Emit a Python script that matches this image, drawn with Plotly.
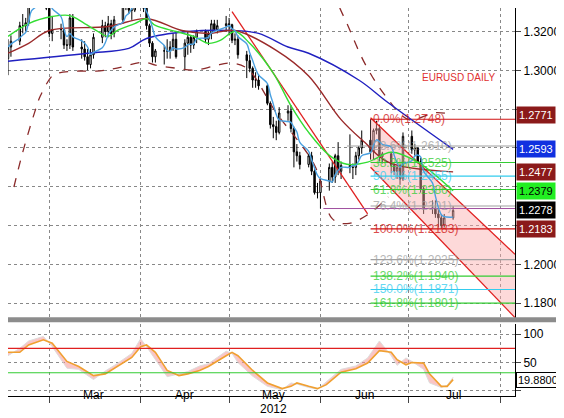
import pandas as pd
from plotly import graph_objects as go

# Daily EURUSD candles, 16 Feb - 16 Jul 2012 (business days)
first_open = 1.3060
close = [1.3120, 1.3150, 1.3230, 1.3230, 1.3245, 1.3380, 1.3450, 1.3420, 1.3450, 1.3320,
         1.3190, 1.3210, 1.3210, 1.3130, 1.3130, 1.3270, 1.3120, 1.3110, 1.3070, 1.3030,
         1.3080, 1.3170, 1.3230, 1.3200, 1.3240, 1.3190, 1.3260, 1.3350, 1.3360, 1.3310,
         1.3310, 1.3340,
         1.3320, 1.3230, 1.3140, 1.3070, 1.3100, 1.3100, 1.3100, 1.3120, 1.3160, 1.3070,
         1.3140, 1.3170, 1.3130, 1.3170, 1.3200, 1.3160, 1.3190, 1.3240, 1.3210, 1.3230, 1.3240,
         1.3235, 1.3155, 1.3160, 1.3080, 1.3050, 1.3010, 1.2950, 1.2950, 1.2920, 1.2830,
         1.2720, 1.2710, 1.2680, 1.2780, 1.2790, 1.2700, 1.2580, 1.2560, 1.2515, 1.2560,
         1.2480, 1.2370, 1.2370,
         1.2430, 1.2500, 1.2450, 1.2560, 1.2480, 1.2510, 1.2500, 1.2500, 1.2560, 1.2600,
         1.2640, 1.2580, 1.2690, 1.2700, 1.2555, 1.2570, 1.2510, 1.2480, 1.2500, 1.2440, 1.2660,
         1.2590, 1.2600, 1.2530, 1.2390, 1.2290, 1.2290, 1.2260, 1.2240, 1.2200, 1.2240, 1.2278]
high = [1.3160, 1.3180, 1.3250, 1.3290, 1.3270, 1.3390, 1.3480, 1.3460, 1.3485, 1.3440,
        1.3330, 1.3280, 1.3240, 1.3210, 1.3160, 1.3290, 1.3290, 1.3160, 1.3150, 1.3110,
        1.3110, 1.3190, 1.3260, 1.3250, 1.3280, 1.3260, 1.3280, 1.3380, 1.3385, 1.3370,
        1.3340, 1.3385,
        1.3380, 1.3340, 1.3240, 1.3150, 1.3110, 1.3130, 1.3160, 1.3150, 1.3190, 1.3200,
        1.3160, 1.3200, 1.3180, 1.3180, 1.3210, 1.3210, 1.3200, 1.3260, 1.3260, 1.3260, 1.3280,
        1.3270, 1.3240, 1.3190, 1.3180, 1.3100, 1.3080, 1.3020, 1.2990, 1.2980, 1.2930,
        1.2840, 1.2760, 1.2740, 1.2810, 1.2820, 1.2820, 1.2710, 1.2620, 1.2580, 1.2570,
        1.2580, 1.2490, 1.2420,
        1.2440, 1.2520, 1.2530, 1.2570, 1.2630, 1.2530, 1.2670, 1.2520, 1.2580, 1.2610,
        1.2690, 1.2748, 1.2700, 1.2740, 1.2720, 1.2580, 1.2580, 1.2520, 1.2510, 1.2520, 1.2680,
        1.2690, 1.2620, 1.2600, 1.2550, 1.2400, 1.2330, 1.2330, 1.2290, 1.2260, 1.2260, 1.2300]
low = [1.2975, 1.3070, 1.3130, 1.3190, 1.3200, 1.3230, 1.3350, 1.3370, 1.3400, 1.3310,
       1.3170, 1.3150, 1.3160, 1.3110, 1.3100, 1.3110, 1.3100, 1.3060, 1.3050, 1.3000,
       1.3010, 1.3060, 1.3140, 1.3170, 1.3170, 1.3160, 1.3170, 1.3240, 1.3310, 1.3290,
       1.3260, 1.3300,
       1.3300, 1.3210, 1.3120, 1.3040, 1.3040, 1.3030, 1.3060, 1.3060, 1.3100, 1.3060,
       1.3000, 1.3080, 1.3090, 1.3110, 1.3140, 1.3140, 1.3130, 1.3160, 1.3200, 1.3190, 1.3200,
       1.3180, 1.3140, 1.3130, 1.3060, 1.2960, 1.2990, 1.2910, 1.2910, 1.2900, 1.2820,
       1.2700, 1.2650, 1.2640, 1.2670, 1.2740, 1.2680, 1.2500, 1.2530, 1.2490, 1.2500,
       1.2460, 1.2360, 1.2340,
       1.2288, 1.2380, 1.2420, 1.2420, 1.2460, 1.2440, 1.2470, 1.2440, 1.2460, 1.2540,
       1.2570, 1.2540, 1.2540, 1.2670, 1.2530, 1.2520, 1.2470, 1.2460, 1.2440, 1.2410, 1.2430,
       1.2570, 1.2560, 1.2520, 1.2370, 1.2260, 1.2260, 1.2240, 1.2190, 1.2183, 1.2190, 1.2230]

# Moving averages / envelope
blue_dates = ["2012-02-16", "2012-03-14", "2012-03-28", "2012-04-03", "2012-04-17", "2012-05-02",
              "2012-05-11", "2012-05-21", "2012-05-28", "2012-06-14", "2012-06-24", "2012-07-16"]
blue_vals = [1.3047, 1.3088, 1.3113, 1.3164, 1.3200, 1.3205, 1.3190, 1.3120, 1.3088, 1.2950, 1.2833, 1.2593]
brown_dates = ["2012-02-16", "2012-02-23", "2012-03-01", "2012-03-21", "2012-04-03", "2012-04-15",
               "2012-04-24", "2012-05-03", "2012-05-17", "2012-05-28", "2012-06-08", "2012-06-16",
               "2012-06-24", "2012-07-16"]
brown_vals = [1.3088, 1.3139, 1.3205, 1.3226, 1.3266, 1.3205, 1.3190, 1.3205, 1.3103, 1.2971,
              1.2746, 1.2629, 1.2527, 1.2477]
green_dates = ["2012-02-16", "2012-02-23", "2012-03-02", "2012-03-08", "2012-03-13", "2012-03-17",
               "2012-03-21", "2012-03-24", "2012-03-30", "2012-04-03", "2012-04-06", "2012-04-13",
               "2012-04-19", "2012-04-24", "2012-04-28", "2012-05-03", "2012-05-08", "2012-05-16",
               "2012-05-22", "2012-05-28", "2012-06-04", "2012-06-10", "2012-06-17", "2012-06-25",
               "2012-07-04", "2012-07-16"]
green_vals = [1.3175, 1.3241, 1.3277, 1.3282, 1.3241, 1.3205, 1.3175, 1.3205, 1.3241, 1.3266,
              1.3231, 1.3200, 1.3175, 1.3139, 1.3154, 1.3200, 1.3139, 1.2986, 1.2817, 1.2680,
              1.2562, 1.2516, 1.2527, 1.2578, 1.2527, 1.2379]
env_low_dates = ["2012-02-18", "2012-02-21", "2012-02-25", "2012-02-27", "2012-03-02", "2012-03-04",
                 "2012-03-10", "2012-03-17", "2012-03-24", "2012-04-02", "2012-04-06", "2012-04-13",
                 "2012-04-19", "2012-04-26", "2012-05-01", "2012-05-07", "2012-05-17", "2012-05-30",
                 "2012-06-05", "2012-06-10", "2012-06-17", "2012-06-24"]
env_low_vals = [1.2399, 1.2578, 1.2782, 1.2869, 1.2971, 1.2986, 1.2996, 1.2996, 1.3011, 1.3042,
                1.3027, 1.3011, 1.3001, 1.3022, 1.3037, 1.3011, 1.2782, 1.2511, 1.2236, 1.2210,
                1.2256, 1.2348]
env_up_dates = ["2012-06-04", "2012-06-07", "2012-06-10", "2012-06-16", "2012-06-23", "2012-07-01",
                "2012-07-10", "2012-07-16"]
env_up_vals = [1.3500, 1.3343, 1.3241, 1.3037, 1.2869, 1.2746, 1.2782, 1.2771]

# Trend channel (drawn lines)
trend_dates = ["2012-05-02", "2012-06-17"]
trend_vals = [1.3302, 1.2261]
chan_dates = ["2012-06-18", "2012-08-06"]
chan_top = [1.2756, 1.2052]
chan_bot = [1.2501, 1.1726]

# Fibonacci levels
fib_pct = ["0.0%", "23.6%", "38.2%", "50.0%", "61.8%", "76.4%", "100.0%",
           "123.6%", "138.2%", "150.0%", "161.8%"]
fib_vals = [1.2748, 1.2610, 1.2525, 1.2455, 1.2386, 1.2301, 1.2183,
            1.2025, 1.1940, 1.1871, 1.1801]
fib_cols = ["#d01010", "#a0a0a0", "#33cc33", "#33ccee", "#33cc33", "#a0a0a0", "#d01010",
            "#a0a0a0", "#33cc33", "#33ccee", "#33cc33"]

# Price tags on the right axis
tag_vals = [1.2771, 1.2593, 1.2477, 1.2379, 1.2278, 1.2183]
tag_bg = ["#8b1a1a", "#1030e0", "#8b1a1a", "#22ee22", "#000000", "#8b1a1a"]
tag_fg = ["white", "white", "white", "black", "white", "white"]

# Price axis labels (the rest sit under the tags)
price_ticks = [1.18, 1.20, 1.22, 1.24, 1.26, 1.28, 1.30, 1.32]
price_labels = ["1.1800", "1.2000", "", "", "", "", "1.3000", "1.3200"]

# Month labels (centred in each month)
month_pos = ["2012-03-16", "2012-04-16", "2012-05-16", "2012-06-16", "2012-07-16"]
month_txt = ["Mar", "Apr", "May", "Jun", "Jul"]

# Stochastic panel
stoch_dates = ["2012-02-16", "2012-02-20", "2012-02-23", "2012-02-28", "2012-03-02", "2012-03-07",
               "2012-03-11", "2012-03-16", "2012-03-20", "2012-03-24", "2012-03-29", "2012-04-01",
               "2012-04-03", "2012-04-06", "2012-04-10", "2012-04-14", "2012-04-17", "2012-04-21",
               "2012-04-24", "2012-04-30", "2012-05-02", "2012-05-04", "2012-05-09", "2012-05-14",
               "2012-05-19", "2012-05-22", "2012-05-24", "2012-05-28", "2012-05-31", "2012-06-03",
               "2012-06-08", "2012-06-13", "2012-06-17", "2012-06-21", "2012-06-25", "2012-06-27",
               "2012-06-30", "2012-07-02", "2012-07-06", "2012-07-08", "2012-07-12", "2012-07-14",
               "2012-07-16"]
stoch_slow = [68, 68, 81, 90, 84, 52, 43, 27, 30, 43, 59, 78, 81, 68, 36, 27, 30, 36, 43, 62,
              68, 62, 36, 14, 4, 8, 14, 8, 4, 11, 33, 39, 49, 71, 68, 55, 46, 50, 49, 30, 8, 8, 19.88]
stoch_fast = [62, 75, 88, 96, 78, 40, 38, 20, 35, 48, 66, 92, 78, 55, 25, 30, 34, 44, 48, 70,
              66, 50, 26, 8, 2, 14, 12, 6, 3, 16, 38, 44, 58, 88, 62, 45, 58, 52, 38, 14, 6, 10, 24]
stoch_hi, stoch_lo = 75, 32

FONT = "Liberation Sans"

dates = pd.bdate_range("2012-02-16", periods=len(close))
opens = [first_open] + close[:-1]
ma_fast = pd.Series(close).rolling(5, min_periods=1).mean()

fig = go.Figure()

# Channel shading
fig.add_trace(go.Scatter(x=chan_dates, y=chan_bot, mode="lines", line=dict(color="#e02020", width=1.3),
                         hoverinfo="skip"))
fig.add_trace(go.Scatter(x=chan_dates, y=chan_top, mode="lines", line=dict(color="#e02020", width=1.3),
                         fill="tonexty", fillcolor="rgba(250,170,170,0.45)", hoverinfo="skip"))
fig.add_trace(go.Scatter(x=trend_dates, y=trend_vals, mode="lines", line=dict(color="#e02020", width=1.3)))

# Fib lines
for p, v, c in zip(fib_pct, fib_vals, fib_cols):
    start = "2012-06-10" if p == "23.6%" else "2012-06-18"
    fig.add_trace(go.Scatter(x=[start, "2012-08-06"], y=[v, v], mode="lines",
                             line=dict(color=c, width=1.2), hoverinfo="skip"))
fig.add_trace(go.Scatter(x=["2012-06-02", "2012-08-06"], y=[1.2288, 1.2288], mode="lines",
                         line=dict(color="#a050a0", width=1)))

# Indicator lines
fig.add_trace(go.Scatter(x=env_low_dates, y=env_low_vals, mode="lines",
                         line=dict(color="#8b2a2a", width=1.3, dash="dash", shape="spline")))
fig.add_trace(go.Scatter(x=env_up_dates, y=env_up_vals, mode="lines",
                         line=dict(color="#8b2a2a", width=1.3, dash="dash", shape="spline")))
fig.add_trace(go.Scatter(x=blue_dates, y=blue_vals, mode="lines",
                         line=dict(color="#2020c0", width=1.4, shape="spline")))
fig.add_trace(go.Scatter(x=brown_dates, y=brown_vals, mode="lines",
                         line=dict(color="#9a2a2a", width=1.4, shape="spline")))
fig.add_trace(go.Scatter(x=green_dates, y=green_vals, mode="lines",
                         line=dict(color="#33dd33", width=1.4, shape="spline")))
fig.add_trace(go.Scatter(x=dates, y=ma_fast, mode="lines",
                         line=dict(color="#4aa0e0", width=1.4, shape="spline")))

fig.add_trace(go.Candlestick(
    x=dates, open=opens, high=high, low=low, close=close,
    increasing=dict(line=dict(color="black", width=1), fillcolor="white"),
    decreasing=dict(line=dict(color="black", width=1), fillcolor="black"),
    whiskerwidth=0))

# Stochastic
fig.add_trace(go.Scatter(x=stoch_dates, y=stoch_slow, mode="lines", line=dict(color="rgba(0,0,0,0)"),
                         xaxis="x2", yaxis="y2", hoverinfo="skip"))
fig.add_trace(go.Scatter(x=stoch_dates, y=stoch_fast, mode="lines", line=dict(color="#dddddd", width=1),
                         fill="tonexty", fillcolor="rgba(245,150,150,0.55)", xaxis="x2", yaxis="y2"))
fig.add_trace(go.Scatter(x=stoch_dates, y=stoch_slow, mode="lines",
                         line=dict(color="#f0a030", width=1.6), xaxis="x2", yaxis="y2"))
for v, c in [(stoch_hi, "#e02020"), (stoch_lo, "#33cc33")]:
    fig.add_trace(go.Scatter(x=["2012-02-16", "2012-08-06"], y=[v, v], mode="lines",
                             line=dict(color=c, width=1.2), xaxis="x2", yaxis="y2"))

annotations = []
for p, v, c in zip(fib_pct, fib_vals, fib_cols):
    annotations.append(dict(x="2012-06-18", y=v, xref="x", yref="y", xanchor="left", yanchor="middle",
                            text=f"{p}({v:.4f})", showarrow=False, opacity=0.75,
                            font=dict(family=FONT, size=12, color=c)))
for v, bg, fg in zip(tag_vals, tag_bg, tag_fg):
    annotations.append(dict(x=1, y=v, xref="paper", yref="y", xanchor="left", yanchor="middle",
                            xshift=1, text=f"{v:.4f}", showarrow=False, bgcolor=bg, borderpad=2,
                            font=dict(family=FONT, size=11, color=fg)))
annotations.append(dict(x=1, y=stoch_slow[-1], xref="paper", yref="y2", xanchor="left", yanchor="middle",
                        xshift=1, text=f"{stoch_slow[-1]:.4f}", showarrow=False, bgcolor="white",
                        bordercolor="black", borderwidth=1, font=dict(family=FONT, size=11, color="black")))
annotations.append(dict(x=0.965, y=1.2965, xref="paper", yref="y", xanchor="right", text="EURUSD DAILY",
                        showarrow=False, font=dict(family=FONT, size=10, color="#e03030")))
for mp, mt in zip(month_pos, month_txt):
    annotations.append(dict(x=mp, y=0, xref="x2", yref="paper", yanchor="top", yshift=10,
                            text=mt, showarrow=False, font=dict(family=FONT, size=12, color="black")))
annotations.append(dict(x="2012-05-16", y=0, xref="x2", yref="paper", yanchor="top", yshift=-4,
                        text="2012", showarrow=False, font=dict(family=FONT, size=12, color="black")))

grid = dict(showgrid=True, gridcolor="#888888", griddash="dot", gridwidth=1)
fig.update_layout(
    width=564, height=418, margin=dict(l=0, r=57, t=0, b=30),
    paper_bgcolor="white", plot_bgcolor="white", showlegend=False,
    font=dict(family=FONT, size=12, color="black"),
    xaxis=dict(domain=[0, 1], range=["2012-02-16", "2012-08-06"], anchor="y", showticklabels=False,
               dtick="M1", tick0="2012-03-01", rangeslider=dict(visible=False), **grid),
    yaxis=dict(domain=[0.2, 1], range=[1.1722, 1.3321], side="right", tickvals=price_ticks,
               ticktext=price_labels, ticks="outside", ticklen=5, showline=True, linecolor="black",
               zeroline=False, **grid),
    xaxis2=dict(domain=[0, 1], range=["2012-02-16", "2012-08-06"], anchor="y2", matches="x",
                dtick="M1", tick0="2012-03-01", showticklabels=False,
                ticks="outside", ticklen=6, showline=True, linecolor="black", **grid),
    yaxis2=dict(domain=[0, 0.185], range=[-9, 117.5], side="right", tickvals=[0, 50, 100],
                ticktext=["", "50", "100"], ticks="outside", ticklen=5, showline=True,
                linecolor="black", zeroline=False, **grid),
    shapes=[dict(type="rect", xref="paper", yref="paper", x0=0, x1=1.115, y0=0.19, y1=0.203,
                 fillcolor="#8c8c8c", line=dict(width=0), layer="above")],
    annotations=annotations,
)

fig.write_html("out.html")
